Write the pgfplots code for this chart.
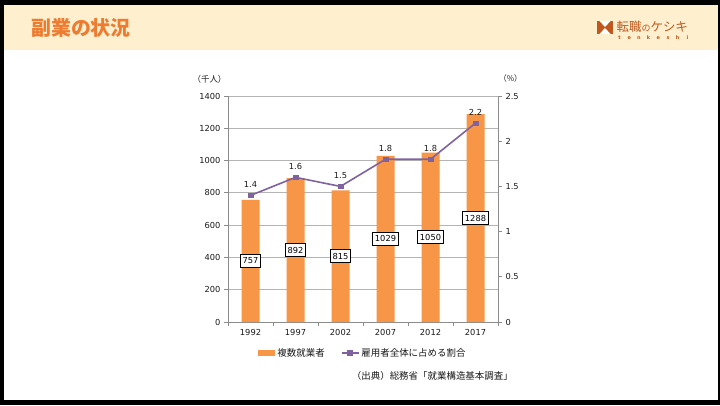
\documentclass[border=0pt]{standalone}
\usepackage{fontspec}
\setmainfont{DejaVu Sans}
\newfontfamily\cjk{Noto Sans CJK JP}
\usepackage{pgfplots}
\usepackage{pgfplotstable}
\pgfplotsset{compat=1.18}
\definecolor{barc}{HTML}{F79646}
\definecolor{linep}{HTML}{7F63A1}
\definecolor{cream}{HTML}{FEEFCF}
\definecolor{titleor}{HTML}{EE7C30}
\definecolor{logob}{HTML}{C0581E}
\definecolor{gridgray}{HTML}{B4B4B4}
\definecolor{axisgray}{HTML}{8C8C8C}
\definecolor{txt}{HTML}{1A1A1A}

\pgfplotstableread{
x v
0 757
1 892
2 815
3 1029
4 1050
5 1288
}\bars
\pgfplotstableread{
x r
0 1.4
1 1.6
2 1.5
3 1.8
4 1.8
5 2.2
}\rate

\begin{document}
\begin{tikzpicture}[x=1bp,y=1bp]
\fill[black] (0,0) rectangle (720,405);
\fill[white] (4,5) rectangle (718,400);
\fill[cream] (4,355) rectangle (718,400);
\node[anchor=west, text=titleor, font=\cjk\bfseries\fontsize{20}{24}\selectfont, inner sep=0] at (31,377) {副業の状況};
% logo
\fill[logob] (597,371) rectangle (613,384);
\fill[white] (599.5,384) -- (610.5,384) -- (605,378) -- cycle;
\fill[white] (599.5,371) -- (610.5,371) -- (605,377) -- cycle;
\node[anchor=west, text=logob, font=\cjk\fontsize{12.5}{14}\selectfont, inner sep=0] at (616.5,378.5) {転職{\fontsize{9}{10}\selectfont の}ケシキ};
\foreach \c [count=\i from 0] in {t,e,n,k,e,s,h,i}
  \node[text=logob, font=\bfseries\fontsize{5}{6}\selectfont, inner sep=0] at (619.5+\i*9.7,367) {\c};

\node[font=\cjk\fontsize{8.5}{10}\selectfont, text=txt] at (209.5,326) {（千人）};
\node[font=\cjk\fontsize{8}{9}\selectfont, text=txt] at (510.5,327) {（\%）};

\begin{axis}[
  at={(228bp,83bp)}, anchor=south west, scale only axis,
  width=270bp, height=226bp,
  xmin=-0.5, xmax=5.5, ymin=0, ymax=1400,
  axis x line*=bottom, axis y line*=left,
  axis line style={draw=axisgray, line width=0.8bp, -},
  xtick={-0.5,0.5,1.5,2.5,3.5,4.5,5.5},
  x tick label as interval,
  xticklabels={1992,1997,2002,2007,2012,2017},
  ytick={0,200,400,600,800,1000,1200,1400},
  tick align=outside, major tick length=4bp,
  tick style={draw=axisgray, line width=0.8bp},
  ymajorgrids, grid style={draw=gridgray, line width=0.8bp},
  /pgf/number format/1000 sep={},
  /pgf/number format/assume math mode=true,
  tick label style={font=\fontsize{8.3}{10}\selectfont, text=txt},
  legend style={draw=none, fill=none, at={(axis description cs:0.5,-0.137)}, anchor=center,
    font=\cjk\fontsize{9.5}{11}\selectfont, text=txt,
    /tikz/every even column/.append style={column sep=14bp}},
  legend columns=2,
  clip=false,
]
\addplot[ybar, bar width=18bp, fill=barc, draw=none,
  legend image code/.code={\fill[barc] (0bp,-3bp) rectangle (17bp,3bp);}]
  table[x=x, y=v]{\bars};
\addlegendentry{複数就業者}
\addlegendimage{color=linep, line width=1.6bp, mark=square*, mark size=2bp, mark options={solid, fill=linep}}
\addlegendentry{雇用者全体に占める割合}
\addplot[draw=none, mark=none, forget plot, nodes near coords, point meta=explicit,
  every node near coord/.append style={anchor=center, fill=white, draw=black, line width=0.8bp,
    inner xsep=2.4bp, inner ysep=3.4bp, font=\fontsize{8.3}{10}\selectfont, text=black}]
  table[x=x, y expr=\thisrow{v}/2, meta=v]{\bars};
\end{axis}

\begin{axis}[
  at={(228bp,83bp)}, anchor=south west, scale only axis,
  width=270bp, height=226bp,
  xmin=-0.5, xmax=5.5, ymin=0, ymax=2.5,
  axis y line*=right, axis x line=none,
  axis line style={draw=axisgray, line width=0.8bp, -},
  ytick={0,0.5,1,1.5,2,2.5},
  tick align=outside, major tick length=4bp,
  tick style={draw=axisgray, line width=0.8bp},
  /pgf/number format/assume math mode=true,
  tick label style={font=\fontsize{8.3}{10}\selectfont, text=txt},
  clip=false,
]
\addplot[color=linep, line width=1.6bp, mark=square*, mark size=2.3bp, mark options={solid, fill=linep, line width=0.5bp},
  nodes near coords={\pgfmathprintnumber[fixed,fixed zerofill,precision=1]{\pgfplotspointmeta}},
  every node near coord/.append style={anchor=center, yshift=11bp, text=txt, font=\fontsize{8.3}{10}\selectfont}]
  table[x=x, y=r]{\rate};
\end{axis}

\node[anchor=east, font=\cjk\fontsize{9.5}{11}\selectfont, text=txt, inner sep=0] at (513,29) {（出典）総務省「就業構造基本調査」};
\end{tikzpicture}
\end{document}
